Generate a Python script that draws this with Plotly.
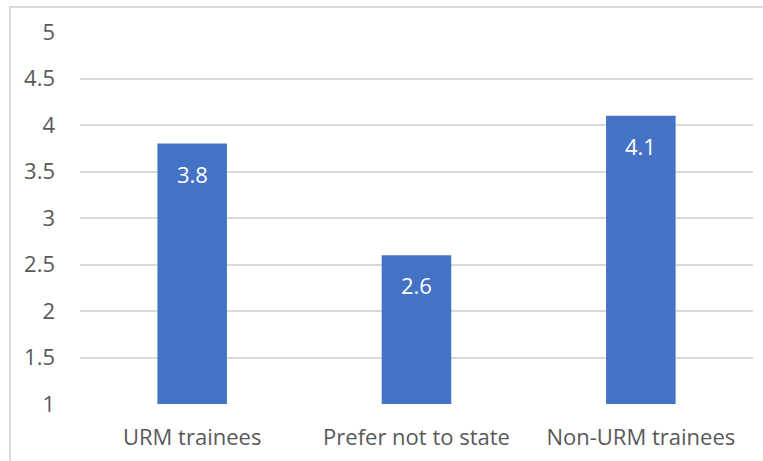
import plotly.graph_objects as go

# Mean rating by trainee group
categories = ["URM trainees", "Prefer not to state", "Non-URM trainees"]
values = [3.8, 2.6, 4.1]
y_ticks = [1, 1.5, 2, 2.5, 3, 3.5, 4, 4.5, 5]
y_tick_text = ["1", "1.5", "2", "2.5", "3", "3.5", "4", "4.5", "5"]

W, H = 763, 461
L, R, T, B = 80, 10, 32, 57
pw, ph = W - L - R, H - T - B

FONT = "Open Sans"
GRAY = "#595959"
GRID = "#d9d9d9"
BAR = "#4472C4"
SIZE = 22

fig = go.Figure(
    go.Bar(
        x=categories,
        y=values,
        marker=dict(color=BAR, line=dict(width=0)),
        width=0.31,
        hoverinfo="skip",
    )
)

# value labels just inside the top of each bar
for c, v in zip(categories, values):
    fig.add_annotation(
        x=c, y=v, xref="x", yref="y",
        text=f"{v:.1f}", showarrow=False,
        yanchor="top", yshift=-13,
        font=dict(family=FONT, size=SIZE, color="white"),
    )

# light outer frame of the chart area
fig.add_shape(
    type="rect", xref="paper", yref="paper",
    x0=(10 - L) / pw, x1=1 + 30 / pw,
    y0=-(B + 30) / ph, y1=1 + (T - 7) / ph,
    line=dict(color=GRID, width=2), fillcolor="rgba(0,0,0,0)",
    layer="below",
)

fig.update_layout(
    width=W, height=H,
    margin=dict(l=L, r=R, t=T, b=B),
    paper_bgcolor="white",
    plot_bgcolor="white",
    showlegend=False,
    font=dict(family=FONT, size=SIZE, color=GRAY),
    xaxis=dict(
        showgrid=False, showline=False, zeroline=False,
        ticks="", ticklabelstandoff=18,
        tickfont=dict(family=FONT, size=SIZE, color=GRAY),
    ),
    yaxis=dict(
        range=[1, 5],
        tickvals=y_ticks, ticktext=y_tick_text,
        showgrid=True, gridcolor=GRID, gridwidth=2,
        zeroline=False, showline=False, ticks="",
        ticklabelstandoff=24,
        tickfont=dict(family=FONT, size=SIZE, color=GRAY),
    ),
)

fig.write_html("out.html")
